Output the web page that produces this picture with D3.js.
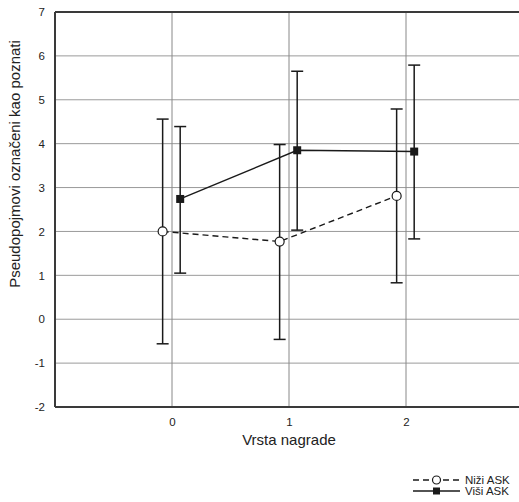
<!DOCTYPE html>
<html>
<head>
<meta charset="utf-8">
<script src="https://d3js.org/d3.v7.min.js"></script>
<style>
  body { margin: 0; background: #fff; }
  text { font-family: "Liberation Sans", Arial, sans-serif; fill: #222; }
</style>
</head>
<body>
<div id="chart"></div>
<script>
// data
var categories = [0, 1, 2];
var yTicks = [-2, -1, 0, 1, 2, 3, 4, 5, 6, 7];
var seriesNames = ["Niži ASK", "Viši ASK"];
var nizi = [2.00, 1.77, 2.81];
var niziLow = [-0.56, -0.46, 0.83];
var niziHigh = [4.56, 3.98, 4.79];
var visi = [2.74, 3.85, 3.82];
var visiLow = [1.05, 2.03, 1.83];
var visiHigh = [4.39, 5.65, 5.79];

var W = 519, H = 502;
var m = {left: 55, top: 12, bottom: 407};

var svg = d3.select("#chart").append("svg")
    .attr("width", W).attr("height", H);

var x = d3.scaleLinear().domain([-1, 3]).range([m.left, m.left + 468]);
var y = d3.scaleLinear().domain([-2, 7]).range([m.bottom, m.top]);

// grid
svg.append("g").selectAll("line").data(yTicks.slice(1, -1)).enter().append("line")
    .attr("x1", m.left).attr("x2", W)
    .attr("y1", function(d) { return y(d); }).attr("y2", function(d) { return y(d); })
    .attr("stroke", "#9a9a9a").attr("stroke-width", 1);
svg.append("g").selectAll("line").data(categories).enter().append("line")
    .attr("y1", m.top).attr("y2", m.bottom)
    .attr("x1", function(d) { return x(d); }).attr("x2", function(d) { return x(d); })
    .attr("stroke", "#888").attr("stroke-width", 1);

// frame
svg.append("line").attr("x1", m.left).attr("x2", W).attr("y1", m.top).attr("y2", m.top)
    .attr("stroke", "#3a3a3a").attr("stroke-width", 2);
svg.append("line").attr("x1", m.left).attr("x2", W).attr("y1", m.bottom).attr("y2", m.bottom)
    .attr("stroke", "#3a3a3a").attr("stroke-width", 2);
svg.append("line").attr("x1", m.left).attr("x2", m.left).attr("y1", m.top).attr("y2", m.bottom)
    .attr("stroke", "#3a3a3a").attr("stroke-width", 2);

// axes labels
var fmt = function(d) { return String(d); };
var yAxis = d3.axisLeft(y).tickValues(yTicks).tickSize(0).tickPadding(10).tickFormat(fmt);
var gy = svg.append("g").attr("transform", "translate(" + m.left + ",0)").call(yAxis);
gy.select(".domain").remove();
gy.selectAll("text").style("font-size", "11.5px").style("font-family", "Liberation Sans, Arial, sans-serif").attr("fill", "#222");

var xAxis = d3.axisBottom(x).tickValues(categories).tickSize(0).tickPadding(11).tickFormat(fmt);
var gx = svg.append("g").attr("transform", "translate(0," + m.bottom + ")").call(xAxis);
gx.select(".domain").remove();
gx.selectAll("text").style("font-size", "11.5px").style("font-family", "Liberation Sans, Arial, sans-serif").attr("fill", "#222");

svg.append("text").attr("x", x(1)).attr("y", 445).attr("text-anchor", "middle")
    .style("font-size", "15px").text("Vrsta nagrade");
svg.append("text").attr("transform", "translate(20,164) rotate(-90)")
    .attr("text-anchor", "middle").style("font-size", "15px")
    .text("Pseudopojmovi označeni kao poznati");

// series
var off = [-0.08, 0.07];
var series = [
  {vals: nizi, lo: niziLow, hi: niziHigh, dash: "6,4", open: true},
  {vals: visi, lo: visiLow, hi: visiHigh, dash: null, open: false}
];

series.forEach(function(s, si) {
  var pts = categories.map(function(c, i) {
    return {x: c + off[si], v: s.vals[i], lo: s.lo[i], hi: s.hi[i]};
  });
  var g = svg.append("g");
  // error bars
  g.selectAll(".eb").data(pts).enter().append("line")
      .attr("x1", function(d) { return x(d.x); }).attr("x2", function(d) { return x(d.x); })
      .attr("y1", function(d) { return y(d.lo); }).attr("y2", function(d) { return y(d.hi); })
      .attr("stroke", "#1a1a1a").attr("stroke-width", 1.5);
  ["lo", "hi"].forEach(function(k) {
    g.selectAll(".cap" + k).data(pts).enter().append("line")
        .attr("x1", function(d) { return x(d.x) - 6; }).attr("x2", function(d) { return x(d.x) + 6; })
        .attr("y1", function(d) { return y(d[k]); }).attr("y2", function(d) { return y(d[k]); })
        .attr("stroke", "#1a1a1a").attr("stroke-width", 1.5);
  });
  var line = d3.line().x(function(d) { return x(d.x); }).y(function(d) { return y(d.v); });
  g.append("path").datum(pts).attr("d", line).attr("fill", "none")
      .attr("stroke", "#1a1a1a").attr("stroke-width", 1.4)
      .attr("stroke-dasharray", s.dash);
  if (s.open) {
    g.selectAll("circle").data(pts).enter().append("circle")
        .attr("cx", function(d) { return x(d.x); }).attr("cy", function(d) { return y(d.v); })
        .attr("r", 4.5).attr("fill", "#fff").attr("stroke", "#1a1a1a").attr("stroke-width", 1.2);
  } else {
    g.selectAll("rect").data(pts).enter().append("rect")
        .attr("x", function(d) { return x(d.x) - 4; }).attr("y", function(d) { return y(d.v) - 4; })
        .attr("width", 8).attr("height", 8).attr("fill", "#1a1a1a");
  }
});

// legend
var lg = svg.append("g");
var ly = [480, 491];
seriesNames.forEach(function(name, i) {
  lg.append("line").attr("x1", 413).attr("x2", 460).attr("y1", ly[i]).attr("y2", ly[i])
      .attr("stroke", "#1a1a1a").attr("stroke-width", 1.3)
      .attr("stroke-dasharray", i === 0 ? "6,4" : null);
  if (i === 0) {
    lg.append("circle").attr("cx", 436.5).attr("cy", ly[i]).attr("r", 4)
        .attr("fill", "#fff").attr("stroke", "#1a1a1a").attr("stroke-width", 1.2);
  } else {
    lg.append("rect").attr("x", 433).attr("y", ly[i] - 3.5).attr("width", 7).attr("height", 7)
        .attr("fill", "#1a1a1a");
  }
  lg.append("text").attr("x", 465).attr("y", ly[i] + 4).style("font-size", "11.5px").text(name);
});
</script>
</body>
</html>
